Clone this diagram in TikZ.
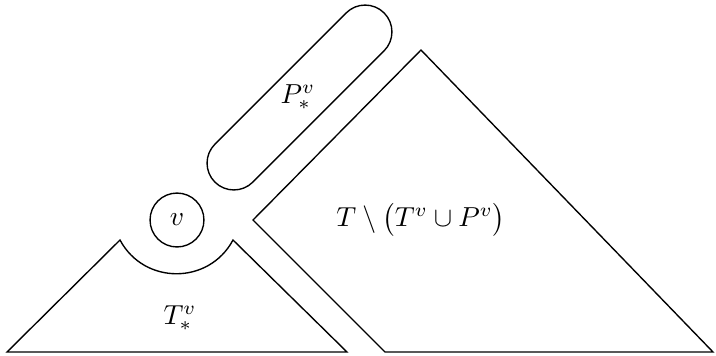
\documentclass[tikz,border=0pt]{standalone}
\usetikzlibrary{shapes.misc}
\begin{document}
\begin{tikzpicture}[x=0.3636pt, y=-0.3636pt, line join=miter, line width=0.5pt,
  lbl/.style={inner sep=0pt},
  vnode/.style={draw, circle, minimum size=19.6pt, inner sep=0pt},
  capsule/.style={draw, rounded rectangle, minimum width=87pt, minimum height=19.5pt, inner sep=0pt}]
\useasboundingbox (0,0) rectangle (716,355);
% left triangle T_*^v with notch
\coordinate (L1) at (7,352);
\coordinate (L2) at (120,240);
\coordinate (L3) at (233,240);
\coordinate (L4) at (347,352);
\draw (L1) -- (L2) .. controls (144,285) and (209,285) .. (L3) -- (L4) -- cycle;
% big triangle
\coordinate (R1) at (385,352);
\coordinate (R2) at (253,220);
\coordinate (R3) at (421,50);
\coordinate (R4) at (713,352);
\draw (R1) -- (R2) -- (R3) -- (R4) -- cycle;
% capsule P_*^v
\node[capsule, rotate=45] (P) at (299.5,97.5) {};
\node[lbl] (Plabel) at (298,97) {$P^v_*$};
% v
\node[vnode] (v) at (177,220) {$v$};
% labels
\node[lbl] (Tlabel) at (180,318) {$T^v_*$};
\node[lbl] (Rlabel) at (421,220) {$T\setminus\bigl(T^v\cup P^v\bigr)$};
\end{tikzpicture}
\end{document}
